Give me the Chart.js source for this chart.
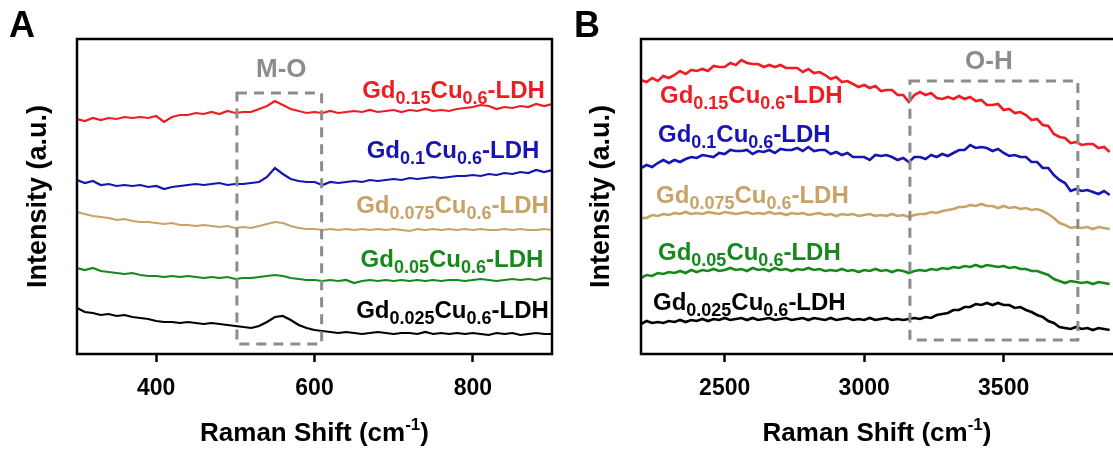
<!DOCTYPE html>
<html lang="en">
<head>
<meta charset="UTF-8">
<title>Raman spectra of GdCu-LDH</title>
<script src="https://cdn.jsdelivr.net/npm/chart.js"></script>
<style>
  html, body { margin: 0; padding: 0; background: #fff; overflow: hidden; }
  #wrap { position: relative; width: 1113px; height: 450px; }
  canvas { position: absolute; top: 0; }
  #chartA { left: 0; }
  #chartB { left: 560px; }
</style>
</head>
<body>
<div id="wrap">
  <canvas id="chartA" width="560" height="450"></canvas>
  <canvas id="chartB" width="553" height="450"></canvas>
</div>
<script>
const FONT = '"Liberation Sans", Arial, Helvetica, sans-serif';

// Gd content of each sample, top trace first
const gdFractions = ['0.15', '0.1', '0.075', '0.05', '0.025'];
const colors = ['#ee1d23', '#1515b0', '#c9a266', '#17881b', '#000000'];

// panel A: 300-900 cm-1 (M-O region), intensity in a.u. with offsets
const shiftA = [300, 310, 320, 330, 340, 350, 360, 370, 380, 390,
  400, 410, 420, 430, 440, 450, 460, 470, 480, 490,
  500, 510, 520, 530, 540, 550, 560, 570, 580, 590,
  600, 610, 620, 630, 640, 650, 660, 670, 680, 690,
  700, 710, 720, 730, 740, 750, 760, 770, 780, 790,
  800, 810, 820, 830, 840, 850, 860, 870, 880, 890, 900];
const redA = [23.5, 23.3, 23.6, 23.4, 23.6, 23.5, 23.7, 23.6, 23.7, 23.6,
  23.8, 23.2, 23.7, 23.9, 23.9, 24.1, 24.0, 24.2, 24.0, 24.3,
  24.1, 24.2, 24.2, 24.5, 24.8, 25.3, 24.9, 24.5, 24.3, 24.1,
  24.2, 24.1, 24.3, 24.1, 24.2, 24.3, 24.2, 24.4, 24.2, 24.3,
  24.4, 24.2, 24.4, 24.3, 24.5, 24.3, 24.4, 24.3, 24.5, 24.6,
  24.7, 24.9, 24.8, 24.5, 24.7, 24.6, 24.8, 24.7, 25.0, 24.8, 25.0];
const blueA = [17.4, 17.1, 17.3, 16.9, 17.0, 16.8, 16.9, 16.8, 16.9, 16.7,
  16.8, 16.5, 16.7, 16.8, 16.9, 17.0, 16.9, 17.0, 17.1, 16.9,
  17.0, 17.0, 17.1, 17.2, 17.7, 18.6, 18.0, 17.5, 17.3, 17.2,
  17.2, 16.9, 17.2, 17.1, 17.2, 17.3, 17.2, 17.4, 17.3, 17.4,
  17.5, 17.4, 17.6, 17.5, 17.6, 17.7, 17.6, 17.7, 17.8, 17.8,
  17.9, 17.8, 18.0, 17.9, 18.1, 18.0, 18.2, 18.1, 18.4, 18.2, 18.4];
const tanA = [14.2, 14.0, 13.8, 13.7, 13.6, 13.4, 13.5, 13.3, 13.2, 13.2,
  13.1, 13.0, 13.1, 12.9, 12.9, 12.8, 12.9, 12.8, 12.7, 12.8,
  12.6, 12.7, 12.6, 12.8, 13.0, 13.2, 13.1, 12.8, 12.6, 12.5,
  12.5, 12.4, 12.5, 12.4, 12.5, 12.4, 12.5, 12.4, 12.5, 12.4,
  12.5, 12.4, 12.3, 12.5, 12.4, 12.5, 12.4, 12.5, 12.4, 12.5,
  12.4, 12.5, 12.4, 12.4, 12.5, 12.4, 12.5, 12.4, 12.4, 12.5, 12.4];
const greenA = [8.6, 8.4, 8.6, 8.3, 8.2, 8.1, 8.0, 8.1, 7.9, 7.8,
  7.8, 7.7, 7.8, 7.7, 7.8, 7.7, 7.6, 7.7, 7.6, 7.7,
  7.5, 7.6, 7.6, 7.7, 7.8, 7.9, 7.8, 7.6, 7.5, 7.4,
  7.4, 7.3, 7.4, 7.3, 7.4, 7.1, 7.3, 7.4, 7.3, 7.4,
  7.3, 7.4, 7.3, 7.4, 7.3, 7.4, 7.3, 7.4, 7.4, 7.3,
  7.4, 7.5, 7.4, 7.3, 7.4, 7.5, 7.4, 7.5, 7.4, 7.6, 7.5];
const blackA = [4.6, 4.2, 4.1, 3.9, 4.0, 3.8, 3.9, 3.7, 3.6, 3.5,
  3.3, 3.2, 3.2, 3.1, 3.2, 3.1, 3.0, 3.1, 3.0, 2.9,
  2.8, 2.7, 2.6, 2.8, 3.2, 3.7, 3.8, 3.4, 2.9, 2.6,
  2.4, 2.3, 2.2, 2.1, 2.2, 2.1, 2.0, 2.1, 2.2, 2.1,
  2.0, 2.1, 2.1, 2.0, 2.2, 2.0, 2.1, 2.0, 2.1, 2.0,
  2.1, 2.0, 1.9, 2.1, 2.0, 2.1, 1.9, 2.0, 2.1, 2.0, 2.0];

// panel B: 2200-3880 cm-1 (O-H region)
const shiftB = [2200, 2220, 2240, 2260, 2280, 2300, 2320, 2340, 2360, 2380,
  2400, 2420, 2440, 2460, 2480, 2500, 2520, 2540, 2560, 2580,
  2600, 2620, 2640, 2660, 2680, 2700, 2720, 2740, 2760, 2780,
  2800, 2820, 2840, 2860, 2880, 2900, 2920, 2940, 2960, 2980,
  3000, 3020, 3040, 3060, 3080, 3100, 3120, 3140, 3160, 3180,
  3200, 3220, 3240, 3260, 3280, 3300, 3320, 3340, 3360, 3380,
  3400, 3420, 3440, 3460, 3480, 3500, 3520, 3540, 3560, 3580,
  3600, 3620, 3640, 3660, 3680, 3700, 3720, 3740, 3760, 3780,
  3800, 3820, 3840, 3860, 3880];
const redB = [27.4, 27.2, 27.6, 27.3, 27.8, 27.6, 27.9, 28.3, 28.0, 28.4,
  28.3, 28.5, 28.3, 28.8, 28.7, 28.7, 29.1, 28.9, 29.4, 29.1,
  29.0, 29.0, 28.7, 28.9, 28.7, 28.9, 28.6, 28.6, 28.6, 28.2,
  28.5, 28.1, 28.2, 27.9, 27.5, 27.7, 27.2, 27.3, 27.0, 26.7,
  26.9, 26.6, 26.8, 26.3, 26.4, 26.4, 25.9, 25.9, 25.2, 25.9,
  26.2, 25.9, 26.1, 25.6, 25.5, 25.7, 25.5, 25.8, 25.5, 25.7,
  25.3, 25.4, 24.9, 24.9, 25.0, 24.4, 24.5, 24.1, 24.2, 23.9,
  23.4, 23.5, 22.9, 22.8, 22.0, 21.7, 21.6, 21.1, 21.2, 20.9,
  21.0, 21.0, 20.6, 20.7, 20.2];
const blueB = [18.6, 18.9, 18.7, 19.1, 19.4, 19.1, 19.4, 19.2, 19.5, 19.7,
  19.6, 19.9, 19.8, 19.7, 20.1, 20.0, 20.4, 20.3, 20.3, 20.4,
  20.0, 20.3, 20.2, 20.4, 20.1, 20.5, 20.4, 20.4, 20.6, 20.3,
  20.7, 20.3, 20.4, 20.4, 20.0, 20.2, 19.9, 20.1, 19.7, 19.7,
  19.7, 19.4, 19.9, 19.8, 19.9, 19.7, 19.4, 19.6, 19.2, 19.7,
  19.7, 19.5, 19.9, 19.7, 20.0, 19.8, 20.1, 20.4, 20.4, 20.9,
  20.6, 20.7, 20.6, 20.3, 20.5, 20.1, 19.8, 19.9, 19.7, 19.7,
  19.2, 19.2, 18.6, 18.6, 17.9, 17.4, 17.1, 16.3, 16.5, 16.3,
  16.4, 16.2, 16.0, 16.3, 15.9];
const tanB = [13.6, 13.6, 13.9, 13.8, 14.0, 13.9, 14.1, 14.0, 14.2, 14.0,
  14.1, 14.0, 14.2, 14.1, 14.0, 14.2, 14.1, 14.0, 14.1, 14.2,
  14.0, 14.1, 14.0, 14.2, 14.0, 14.1, 13.9, 14.1, 14.0, 14.1,
  13.9, 14.0, 14.1, 13.9, 14.0, 13.8, 14.0, 13.9, 14.0, 13.8,
  13.9, 14.0, 13.8, 13.9, 13.8, 14.0, 13.8, 13.9, 13.7, 13.9,
  14.0, 14.0, 14.2, 14.1, 14.3, 14.4, 14.5, 14.7, 14.7, 14.9,
  14.8, 15.0, 14.8, 14.8, 14.6, 14.8, 14.6, 14.7, 14.5, 14.6,
  14.4, 14.5, 14.3, 14.0, 13.6, 13.1, 12.9, 12.6, 12.7, 12.6,
  12.7, 12.5, 12.7, 12.6, 12.5];
const greenB = [7.6, 7.9, 7.8, 8.1, 8.0, 8.2, 8.1, 8.3, 8.1, 8.4,
  8.2, 8.4, 8.3, 8.5, 8.3, 8.4, 8.6, 8.4, 8.5, 8.3,
  8.6, 8.4, 8.5, 8.3, 8.6, 8.4, 8.5, 8.3, 8.5, 8.4,
  8.6, 8.4, 8.5, 8.3, 8.4, 8.3, 8.5, 8.3, 8.4, 8.2,
  8.4, 8.3, 8.5, 8.3, 8.4, 8.2, 8.4, 8.3, 8.1, 8.3,
  8.4, 8.3, 8.5, 8.4, 8.6, 8.5, 8.7, 8.6, 8.8, 8.7,
  8.9, 8.7, 8.9, 8.8, 8.7, 8.8, 8.6, 8.7, 8.5, 8.5,
  8.3, 8.3, 8.1, 7.9, 7.5, 7.3, 7.1, 7.3, 7.2, 7.1,
  7.2, 7.0, 7.2, 7.1, 7.0];
const blackB = [3.0, 3.3, 3.1, 3.2, 3.1, 3.3, 3.2, 3.4, 3.2, 3.4,
  3.3, 3.5, 3.3, 3.5, 3.4, 3.6, 3.4, 3.5, 3.6, 3.4,
  3.6, 3.4, 3.5, 3.6, 3.4, 3.5, 3.6, 3.4, 3.5, 3.6,
  3.4, 3.6, 3.5, 3.4, 3.6, 3.4, 3.5, 3.6, 3.4, 3.5,
  3.4, 3.6, 3.4, 3.5, 3.6, 3.4, 3.5, 3.4, 3.5, 3.6,
  3.5, 3.7, 3.6, 3.9, 4.0, 4.1, 4.4, 4.4, 4.7, 4.7,
  5.0, 4.9, 5.1, 4.9, 5.1, 4.9, 4.9, 4.6, 4.7, 4.4,
  4.2, 3.9, 3.7, 3.3, 3.1, 2.7, 2.6, 2.5, 2.7, 2.5,
  2.6, 2.4, 2.6, 2.5, 2.4];

const ticksA = [400, 600, 800];
const ticksB = [2500, 3000, 3500];

// text with subscripts (kind 1) and superscripts (kind 2)
function drawRich(ctx, parts, x, y, align, color, size, small) {
  let total = 0;
  const widths = parts.map(([t, k]) => {
    ctx.font = 'bold ' + (k ? small : size) + 'px ' + FONT;
    const w = ctx.measureText(t).width;
    total += w;
    return w;
  });
  let cx = align === 'right' ? x - total : align === 'center' ? x - total / 2 : x;
  ctx.fillStyle = color;
  ctx.textAlign = 'left';
  ctx.textBaseline = 'alphabetic';
  parts.forEach(([t, k], i) => {
    ctx.font = 'bold ' + (k ? small : size) + 'px ' + FONT;
    const dy = k === 1 ? size * 0.27 : k === 2 ? -size * 0.42 : 0;
    ctx.fillText(t, cx, y + dy);
    cx += widths[i];
  });
}

function nameParts(frac) {
  return [['Gd', 0], [frac, 1], ['Cu', 0], ['0.6', 1], ['-LDH', 0]];
}

const decor = {
  id: 'decor',
  afterDatasetsDraw(chart, args, o) {
    const { ctx, chartArea: a, scales: { x, y } } = chart;
    ctx.save();
    // dashed region box
    const b = o.box;
    const bx0 = x.getPixelForValue(b.x0), bx1 = x.getPixelForValue(b.x1);
    const by0 = y.getPixelForValue(b.y0), by1 = y.getPixelForValue(b.y1);
    ctx.strokeStyle = '#8c8c8c';
    ctx.lineWidth = 3;
    ctx.setLineDash([10, 7]);
    ctx.strokeRect(bx0, by1, bx1 - bx0, by0 - by1);
    ctx.setLineDash([]);
    ctx.fillStyle = '#8c8c8c';
    ctx.font = 'bold 26px ' + FONT;
    ctx.textAlign = 'center';
    ctx.textBaseline = 'middle';
    ctx.fillText(b.text, x.getPixelForValue(b.tx), y.getPixelForValue(b.ty));

    // frame
    ctx.strokeStyle = '#000';
    ctx.lineWidth = 2.5;
    ctx.beginPath();
    if (o.openRight) {
      ctx.moveTo(a.right + 2, a.top);
      ctx.lineTo(a.left, a.top);
      ctx.lineTo(a.left, a.bottom);
      ctx.lineTo(a.right + 2, a.bottom);
    } else {
      ctx.rect(a.left, a.top, a.right - a.left, a.bottom - a.top);
    }
    ctx.stroke();

    // sample names
    o.labels.forEach((l, i) => {
      drawRich(ctx, nameParts(gdFractions[i]), x.getPixelForValue(l.x), y.getPixelForValue(l.y),
        l.align, colors[i], 24, 18);
    });

    // x axis title with superscript
    drawRich(ctx, [['Raman Shift (cm', 0], ['-1', 2], [')', 0]],
      (a.left + a.right) / 2, 441, 'center', '#000', 26, 17);

    // panel letter
    ctx.fillStyle = '#000';
    ctx.font = 'bold 36px ' + FONT;
    ctx.textAlign = 'left';
    ctx.textBaseline = 'alphabetic';
    ctx.fillText(o.letter, o.letterX, 37);
    ctx.restore();
  }
};

function makeChart(id, shift, series, xr, tickVals, yWidth, titlePad, padRight, lineW, deco) {
  const datasets = series.map((vals, i) => ({
    label: 'Gd' + gdFractions[i] + 'Cu0.6-LDH',
    data: shift.map((s, j) => ({ x: s, y: vals[j] })),
    borderColor: colors[i],
    borderWidth: lineW,
    pointRadius: 0,
    tension: 0,
    fill: false
  }));
  return new Chart(document.getElementById(id), {
    type: 'line',
    data: { datasets },
    options: {
      responsive: false,
      animation: false,
      devicePixelRatio: 1,
      layout: { padding: { top: 39, right: padRight, left: 0, bottom: 0 } },
      plugins: { legend: { display: false }, tooltip: { enabled: false }, decor: deco },
      scales: {
        x: {
          type: 'linear',
          min: xr[0],
          max: xr[1],
          afterBuildTicks: s => { s.ticks = tickVals.map(v => ({ value: v })); },
          afterFit: s => { s.height = 96; },
          ticks: {
            color: '#000',
            padding: 13,
            callback: v => String(v),
            font: { family: FONT, size: 23, weight: 'bold' }
          },
          grid: { drawOnChartArea: false, drawTicks: true, tickLength: 8, tickWidth: 2.5, tickColor: '#000' },
          border: { display: false }
        },
        y: {
          min: 0,
          max: 31.5,
          afterFit: s => { s.width = yWidth; },
          ticks: { display: false },
          grid: { display: false },
          border: { display: false },
          title: {
            display: true,
            text: 'Intensity (a.u.)',
            color: '#000',
            padding: { top: titlePad, bottom: 0 },
            font: { family: FONT, size: 27, weight: 'bold' }
          }
        }
      }
    },
    plugins: [decor]
  });
}

makeChart('chartA', shiftA, [redA, blueA, tanA, greenA, blackA], [300, 900], ticksA, 77, 22, 8, 2.2, {
  letter: 'A', letterX: 9, openRight: false,
  box: { x0: 502, x1: 609, y0: 1.0, y1: 26.1, text: 'M-O', tx: 558, ty: 28.4 },
  labels: [
    { x: 891, y: 25.6, align: 'right' },
    { x: 884, y: 19.6, align: 'right' },
    { x: 896, y: 14.1, align: 'right' },
    { x: 889, y: 8.7, align: 'right' },
    { x: 896, y: 3.6, align: 'right' }
  ]
});

makeChart('chartB', shiftB, [redB, blueB, tanB, greenB, blackB], [2200, 3892], ticksB, 81, 25, 0, 2.6, {
  letter: 'B', letterX: 14, openRight: true,
  box: { x0: 3164, x1: 3766, y0: 1.4, y1: 27.3, text: 'O-H', tx: 3447, ty: 29.2 },
  labels: [
    { x: 2268, y: 25.1, align: 'left' },
    { x: 2261, y: 21.2, align: 'left' },
    { x: 2254, y: 15.1, align: 'left' },
    { x: 2261, y: 9.4, align: 'left' },
    { x: 2243, y: 4.4, align: 'left' }
  ]
});
</script>
</body>
</html>
